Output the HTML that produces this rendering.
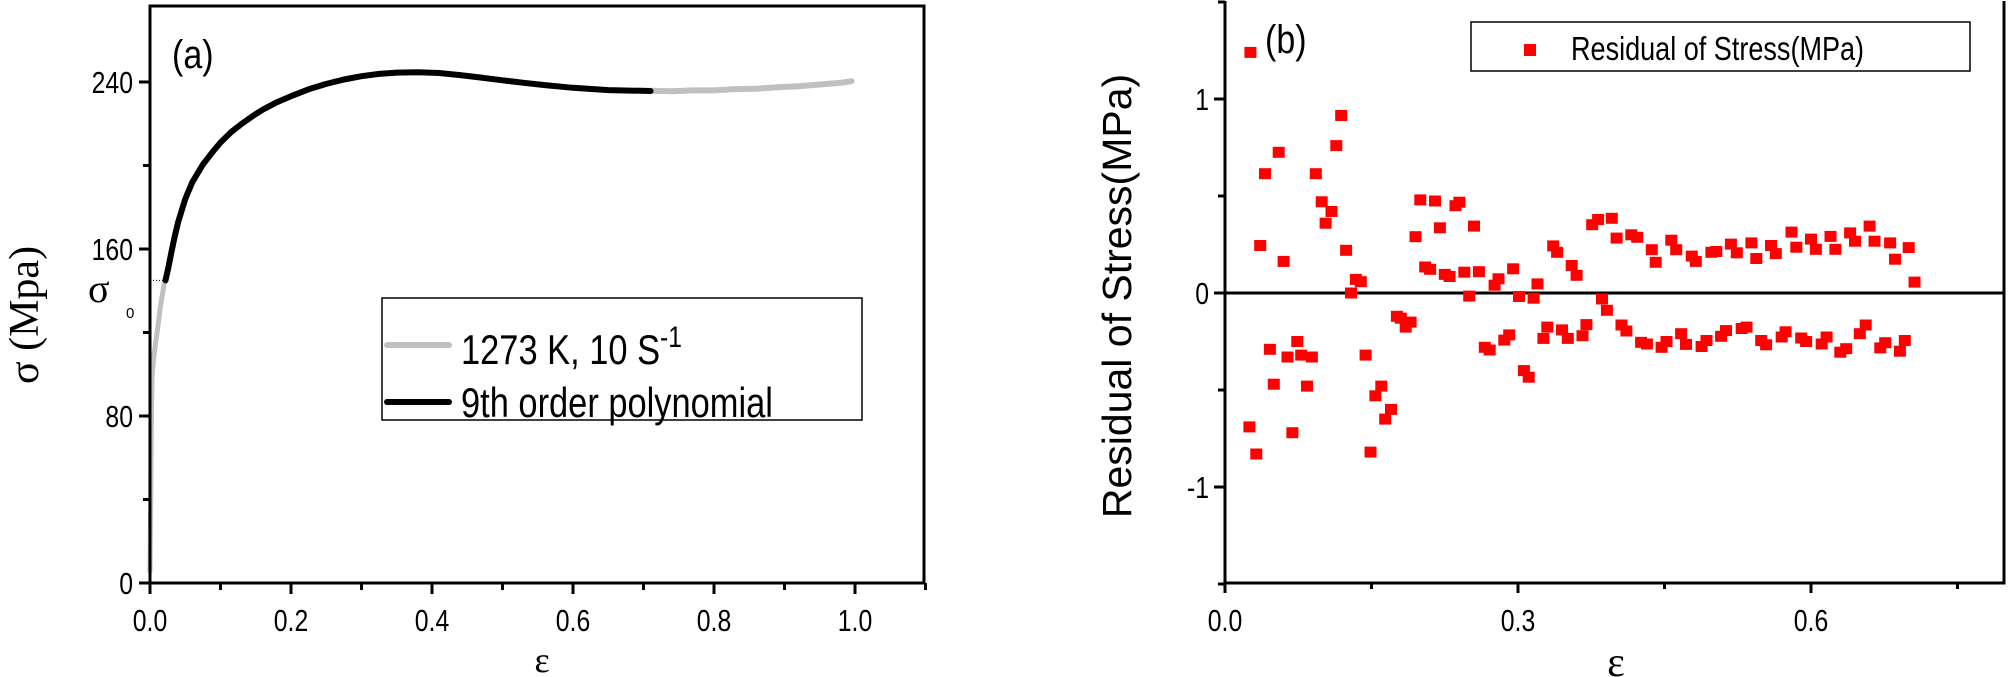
<!DOCTYPE html>
<html><head><meta charset="utf-8"><style>
html,body{margin:0;padding:0;background:#fff;}
svg{display:block;}
text{font-family:"Liberation Sans",sans-serif;fill:#000;}
</style></head><body>
<svg id="fig" width="2008" height="677" viewBox="0 0 2008 677" xmlns="http://www.w3.org/2000/svg">
<g id="chartA"></g>
<g id="chartB"></g>
</svg>
<script>
// ---- Chart (a) data ----
const rawX = [0.0, 0.001, 0.002, 0.003, 0.006, 0.01, 0.015, 0.02, 0.022];
const rawY = [5, 40, 80, 100, 110, 120, 133, 143, 145];
const fitX = [0.022, 0.026, 0.03, 0.035, 0.04, 0.05, 0.06, 0.075, 0.09, 0.1, 0.115, 0.13, 0.145, 0.16, 0.18, 0.2, 0.225, 0.25, 0.275, 0.3, 0.325, 0.35, 0.38, 0.41, 0.44, 0.47, 0.5, 0.53, 0.56, 0.6, 0.65, 0.71];
const fitY = [145, 151, 158, 166, 173, 184, 192, 200.5, 207, 211, 216, 220, 223.5, 226.8, 230.3, 233.2, 236.5, 239.1, 241.2, 242.8, 243.9, 244.5, 244.7, 244.3, 243.3, 242.1, 240.8, 239.6, 238.5, 237.2, 236.1, 235.7];
const tailX = [0.71, 0.74, 0.77, 0.8, 0.83, 0.86, 0.89, 0.92, 0.95, 0.98, 0.995];
const tailY = [235.8, 235.6, 236, 236, 236.6, 236.8, 237.5, 238, 238.8, 239.6, 240.4];
const xTicksA = [0, 0.2, 0.4, 0.6, 0.8, 1.0];
const xTickLabelsA = ["0.0","0.2","0.4","0.6","0.8","1.0"];
const yTicksA = [0, 80, 160, 240];
const yTickLabelsA = ["0","80","160","240"];

// ---- Chart (b) data ----
const resX = [0.026,0.025,0.032,0.036,0.041,0.046,0.05,0.055,0.06,0.064,0.069,0.074,0.078,0.084,0.089,0.093,0.099,0.103,0.109,0.114,0.119,0.124,0.129,0.134,0.139,0.144,0.149,0.154,0.16,0.164,0.17,0.176,0.18,0.185,0.19,0.195,0.2,0.205,0.21,0.215,0.22,0.225,0.23,0.236,0.24,0.245,0.25,0.255,0.26,0.266,0.271,0.276,0.28,0.286,0.291,0.295,0.301,0.306,0.311,0.316,0.32,0.326,0.33,0.336,0.34,0.345,0.351,0.355,0.36,0.366,0.37,0.376,0.382,0.386,0.391,0.396,0.401,0.406,0.411,0.416,0.422,0.426,0.432,0.437,0.441,0.447,0.452,0.457,0.462,0.467,0.472,0.478,0.482,0.488,0.493,0.498,0.503,0.508,0.513,0.518,0.524,0.529,0.534,0.539,0.544,0.549,0.554,0.559,0.564,0.57,0.574,0.58,0.585,0.59,0.595,0.6,0.605,0.611,0.616,0.62,0.625,0.63,0.636,0.64,0.645,0.65,0.656,0.66,0.665,0.671,0.676,0.681,0.686,0.691,0.696,0.7,0.706];
const resY = [1.24,-0.69,-0.83,0.245,0.615,-0.29,-0.47,0.725,0.163,-0.33,-0.72,-0.25,-0.32,-0.48,-0.33,0.615,0.47,0.36,0.42,0.76,0.915,0.22,0.0,0.07,0.058,-0.32,-0.82,-0.53,-0.48,-0.65,-0.6,-0.12,-0.13,-0.176,-0.15,0.29,0.48,0.134,0.122,0.474,0.336,0.096,0.085,0.45,0.468,0.107,-0.016,0.345,0.11,-0.28,-0.294,0.04,0.073,-0.243,-0.216,0.125,-0.018,-0.4,-0.434,-0.027,0.047,-0.234,-0.176,0.243,0.21,-0.19,-0.234,0.142,0.091,-0.22,-0.163,0.352,0.379,-0.031,-0.089,0.385,0.283,-0.165,-0.196,0.3,0.287,-0.254,-0.263,0.223,0.158,-0.28,-0.25,0.272,0.223,-0.21,-0.265,0.19,0.163,-0.276,-0.245,0.21,0.214,-0.223,-0.194,0.252,0.207,-0.183,-0.176,0.258,0.178,-0.245,-0.267,0.245,0.203,-0.227,-0.2,0.314,0.236,-0.232,-0.25,0.278,0.225,-0.263,-0.227,0.292,0.225,-0.305,-0.287,0.31,0.267,-0.21,-0.165,0.345,0.267,-0.283,-0.256,0.258,0.174,-0.3,-0.245,0.234,0.056];
const xTicksB = [0, 0.3, 0.6];
const xTickLabelsB = ["0.0","0.3","0.6"];
const yTicksB = [-1, 0, 1];
const yTickLabelsB = ["-1","0","1"];

const NS = "http://www.w3.org/2000/svg";
function mk(parent, tag, attrs, text) {
  const e = document.createElementNS(NS, tag);
  for (const k in attrs) e.setAttribute(k, attrs[k]);
  if (text !== undefined) e.textContent = text;
  parent.appendChild(e);
  return e;
}

// ===== Chart A =====
const A = document.getElementById('chartA');
const ax = v => 150 + v * 705;
const ay = v => 583 - v * (501 / 240);
function poly(xs, ys) { return xs.map((x, i) => ax(x).toFixed(1) + ',' + ay(ys[i]).toFixed(1)).join(' '); }

let e;
e = mk(A, 'polyline', {points: poly(rawX, rawY), fill: 'none', stroke: '#c0c0c0', 'stroke-width': 5});


e = mk(A, 'polyline', {points: poly(tailX, tailY), fill: 'none', stroke: '#c0c0c0', 'stroke-width': 6, 'stroke-linecap': 'round'});


e = mk(A, 'polyline', {points: poly(fitX, fitY), fill: 'none', stroke: '#000', 'stroke-width': 6, 'stroke-linecap': 'round', 'stroke-linejoin': 'round'});


e = mk(A, 'line', {x1: 150, y1: ay(145), x2: ax(0.022), y2: ay(145), stroke: '#000', 'stroke-width': 1, 'stroke-dasharray': '1,2'});



e = mk(A, 'rect', {x: 150, y: 6, width: 774, height: 577, fill: 'none', stroke: '#000', 'stroke-width': 3});



for (let i = 0; i <= 11; i++) {
  const v = i * 0.1;
  e = mk(A, 'line', {x1: ax(v), y1: 583, x2: ax(v), y2: i % 2 === 0 ? 594 : 590, stroke: '#000', 'stroke-width': 3});
  
  
}
for (let i = 0; i <= 6; i++) {
  const v = i * 40;
  e = mk(A, 'line', {x1: 150, y1: ay(v), x2: i % 2 === 0 ? 139 : 143, y2: ay(v), stroke: '#000', 'stroke-width': 3});
  
  
}
xTicksA.forEach((v, i) => {
  e = mk(A, 'text', {x: 0, y: 0, 'font-size': 31, 'text-anchor': 'middle', transform: `translate(${ax(v)},631) scale(0.8,1)`}, xTickLabelsA[i]);
  
  
});
yTicksA.forEach((v, i) => {
  e = mk(A, 'text', {x: 0, y: 0, 'font-size': 31, 'text-anchor': 'end', transform: `translate(133,${ay(v) + 11}) scale(0.8,1)`}, yTickLabelsA[i]);
  
  
});

e = mk(A, 'text', {x: 542, y: 672, 'font-size': 36, 'text-anchor': 'middle', style: 'font-family:"Liberation Serif",serif'}, 'ε');


e = mk(A, 'text', {x: 0, y: 0, 'font-size': 42, 'text-anchor': 'middle', transform: 'translate(38,315) rotate(-90)', style: 'font-family:"Liberation Serif",serif'}, 'σ  (Mpa)');


e = mk(A, 'text', {x: 88, y: 302, 'font-size': 40, style: 'font-family:"Liberation Serif",serif'}, 'σ');


e = mk(A, 'text', {x: 126, y: 318, 'font-size': 15}, '0');


e = mk(A, 'text', {x: 0, y: 0, 'font-size': 40, transform: 'translate(172,68) scale(0.85,1)'}, '(a)');



const legA = mk(A, 'g', {});


mk(legA, 'rect', {x: 382, y: 298, width: 480, height: 122, fill: '#fff', stroke: '#000', 'stroke-width': 1.5});
e = mk(legA, 'line', {x1: 387, y1: 345, x2: 449, y2: 345, stroke: '#c0c0c0', 'stroke-width': 6, 'stroke-linecap': 'round'});


e = mk(legA, 'text', {x: 0, y: 0, 'font-size': 42, transform: 'translate(461,364) scale(0.82,1)'});


mk(e, 'tspan', {}, '1273 K, 10 S');
mk(e, 'tspan', {dy: -17, 'font-size': 30}, '-1');
e = mk(legA, 'line', {x1: 387, y1: 402, x2: 449, y2: 402, stroke: '#000', 'stroke-width': 6, 'stroke-linecap': 'round'});


e = mk(legA, 'text', {x: 0, y: 0, 'font-size': 42, transform: 'translate(461,417) scale(0.82,1)'}, '9th order polynomial');



// ===== Chart B =====
const B = document.getElementById('chartB');
const bx = v => 1225 + v * (293 / 0.3);
const by = v => 293 - v * 194;

e = mk(B, 'line', {x1: 1225, y1: by(0), x2: 2004, y2: by(0), stroke: '#000', 'stroke-width': 3});



resX.forEach((x, i) => {
  e = mk(B, 'rect', {x: (bx(x) - 6).toFixed(1), y: (by(resY[i]) - 5.5).toFixed(1), width: 12, height: 11, fill: '#ff0000'});
  
  
});

e = mk(B, 'path', {d: 'M1225,1 V583 H2004 V1', fill: 'none', stroke: '#000', 'stroke-width': 3});



for (let i = 0; i <= 5; i++) {
  const v = i * 0.15;
  e = mk(B, 'line', {x1: bx(v), y1: 583, x2: bx(v), y2: i % 2 === 0 ? 593 : 589, stroke: '#000', 'stroke-width': 3});
  
  
}
for (let i = -3; i <= 3; i++) {
  const v = i * 0.5;
  e = mk(B, 'line', {x1: 1225, y1: by(v), x2: i % 2 === 0 ? 1214 : 1218, y2: by(v), stroke: '#000', 'stroke-width': 3});
  
  
}
xTicksB.forEach((v, i) => {
  e = mk(B, 'text', {x: 0, y: 0, 'font-size': 31, 'text-anchor': 'middle', transform: `translate(${bx(v)},631) scale(0.8,1)`}, xTickLabelsB[i]);
  
  
});
yTicksB.forEach((v, i) => {
  e = mk(B, 'text', {x: 0, y: 0, 'font-size': 31, 'text-anchor': 'end', transform: `translate(1209,${by(v) + 11}) scale(0.8,1)`}, yTickLabelsB[i]);
  
  
});
e = mk(B, 'text', {x: 1616, y: 676, 'font-size': 42, 'text-anchor': 'middle', style: 'font-family:"Liberation Serif",serif'}, 'ε');


e = mk(B, 'text', {x: 0, y: 0, 'font-size': 41, 'text-anchor': 'middle', transform: 'translate(1131,296) rotate(-90)'}, 'Residual of Stress(MPa)');


e = mk(B, 'text', {x: 0, y: 0, 'font-size': 40, transform: 'translate(1265,53) scale(0.85,1)'}, '(b)');



const legB = mk(B, 'g', {});


mk(legB, 'rect', {x: 1471, y: 22, width: 499, height: 49, fill: '#fff', stroke: '#000', 'stroke-width': 1.5});
e = mk(legB, 'rect', {x: 1524, y: 44, width: 12, height: 12, fill: '#ff0000'});


e = mk(legB, 'text', {x: 0, y: 0, 'font-size': 33, transform: 'translate(1571,60) scale(0.82,1)'}, 'Residual of Stress(MPa)');


</script>
</body></html>
